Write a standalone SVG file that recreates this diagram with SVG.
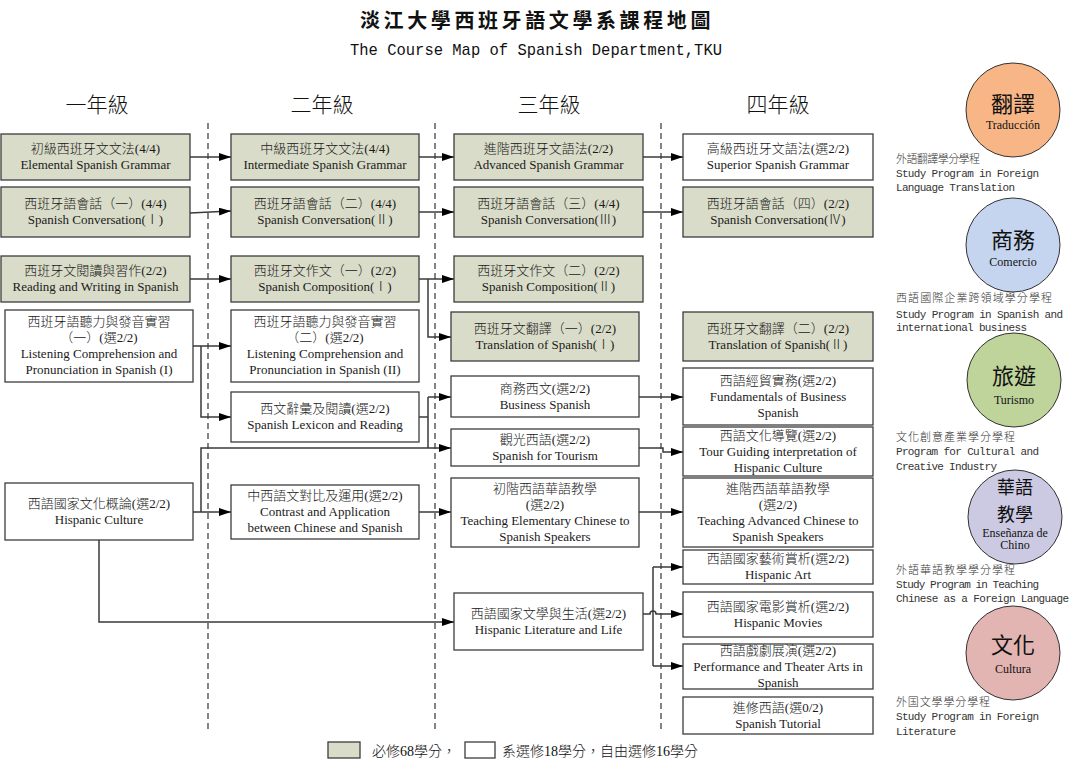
<svg xmlns="http://www.w3.org/2000/svg" width="1077" height="770" viewBox="0 0 1077 770">
<style>
.req{fill:#D9DCC8;stroke:#3c3c3c;stroke-width:1.3}
.opt{fill:#ffffff;stroke:#3c3c3c;stroke-width:1.3}
.t{font-family:"Liberation Serif","Noto Sans CJK TC",serif;font-size:13px;font-weight:300;fill:#1a1a1a;text-anchor:middle}
.yr{font-family:"Noto Sans CJK TC",serif;font-size:21px;font-weight:300;fill:#111;text-anchor:middle}
.dash{stroke:#333;stroke-width:1.2;stroke-dasharray:6,4;fill:none}
.ln{stroke:#3a3a3a;stroke-width:1.5;fill:none}
.ar{marker-end:url(#arr)}
.cbig{font-family:"Noto Sans CJK TC",serif;font-size:22px;fill:#111;text-anchor:middle}
.csm{font-family:"Liberation Serif",serif;font-size:12px;fill:#111;text-anchor:middle}
.pz{font-family:"Noto Sans CJK TC",sans-serif;font-size:11px;font-weight:300;fill:#333}
.pe{font-family:"Liberation Mono",monospace;font-size:11px;fill:#333}
.circ{stroke:#333;stroke-width:1}
.lg{font-family:"Liberation Serif","Noto Sans CJK TC",serif;font-size:14px;font-weight:300;fill:#111}
</style>
<defs>
<marker id="arr" markerUnits="userSpaceOnUse" markerWidth="12" markerHeight="8" refX="12" refY="4" orient="auto">
<path d="M0,0 L12,4 L0,8 z" fill="#000"/>
</marker>
</defs>
<rect width="1077" height="770" fill="#fff"/>

<g id="title">
<text x="537" y="28" font-family="Noto Sans CJK TC,serif" font-size="20" font-weight="bold" text-anchor="middle" letter-spacing="3.6" fill="#111">淡江大學西班牙語文學系課程地圖</text>
<text x="350" y="55" font-family="Liberation Mono,monospace" font-size="17" textLength="372" lengthAdjust="spacingAndGlyphs" fill="#111">The Course Map of Spanish Department,TKU</text>
</g>

<g id="years">
<text class="yr" x="97" y="112">一年級</text>
<text class="yr" x="322" y="112">二年級</text>
<text class="yr" x="549" y="112">三年級</text>
<text class="yr" x="778" y="112">四年級</text>
</g>

<g id="dividers">
<line class="dash" x1="208" y1="123" x2="208" y2="730"/>
<line class="dash" x1="435" y1="123" x2="435" y2="730"/>
<line class="dash" x1="661" y1="123" x2="661" y2="730"/>
</g>

<g id="connectors">
<path class="ln ar" d="M190,157 H231"/>
<path class="ln ar" d="M419,157 H454"/>
<path class="ln ar" d="M643,157 H683"/>
<path class="ln ar" d="M190,213 L231,211"/>
<path class="ln ar" d="M419,212 H454"/>
<path class="ln ar" d="M643,212 H683"/>
<path class="ln ar" d="M190,279 H231"/>
<path class="ln ar" d="M419,279 H454"/>
<path class="ln ar" d="M428,279 V337 H451"/>
<path class="ln ar" d="M193,346 H231"/>
<path class="ln ar" d="M201,346 V417 H231"/>
<path class="ln ar" d="M193,512 H231"/>
<path class="ln ar" d="M201,512 V448 H451"/>
<path class="ln" d="M419,417 H428"/>
<path class="ln" d="M428,397 V448"/>
<path class="ln ar" d="M428,397 H451"/>
<path class="ln ar" d="M419,512 H451"/>
<path class="ln ar" d="M99,540 V622 H454"/>
<path class="ln ar" d="M639,397 H683"/>
<path class="ln ar" d="M639,448 H663 V452 H683"/>
<path class="ln ar" d="M639,512 H683"/>
<path class="ln ar" d="M643,614 H650 A3,3 0 0 1 656,614 H683"/>
<path class="ln" d="M653,567 V666"/>
<path class="ln ar" d="M653,567 H683"/>
<path class="ln ar" d="M653,666 H683"/>
</g>

<g id="n1"><rect class="req" x="1" y="134" width="189" height="46"/><text class="t" x="95.5" y="153">初級西班牙文文法(4/4)</text><text class="t" x="95.5" y="169">Elemental Spanish Grammar</text></g>
<g id="n2"><rect class="req" x="1" y="187" width="189" height="50"/><text class="t" x="95.5" y="208">西班牙語會話（一）(4/4)</text><text class="t" x="95.5" y="224">Spanish Conversation(Ⅰ)</text></g>
<g id="n3"><rect class="req" x="1" y="256" width="189" height="46"/><text class="t" x="95.5" y="275">西班牙文閱讀與習作(2/2)</text><text class="t" x="95.5" y="291">Reading and Writing in Spanish</text></g>
<g id="n4"><rect class="opt" x="5" y="310" width="188" height="72"/><text class="t" x="99" y="326">西班牙語聽力與發音實習</text><text class="t" x="99" y="342">（一）(選2/2)</text><text class="t" x="99" y="358">Listening Comprehension and</text><text class="t" x="99" y="374">Pronunciation in Spanish (I)</text></g>
<g id="n5"><rect class="opt" x="5" y="483" width="188" height="57"/><text class="t" x="99" y="508">西語國家文化概論(選2/2)</text><text class="t" x="99" y="524">Hispanic Culture</text></g>

<g id="n6"><rect class="req" x="231" y="134" width="188" height="46"/><text class="t" x="325" y="153">中級西班牙文文法(4/4)</text><text class="t" x="325" y="169">Intermediate Spanish Grammar</text></g>
<g id="n7"><rect class="req" x="231" y="187" width="188" height="50"/><text class="t" x="325" y="208">西班牙語會話（二）(4/4)</text><text class="t" x="325" y="224">Spanish Conversation(Ⅱ)</text></g>
<g id="n8"><rect class="req" x="231" y="256" width="188" height="46"/><text class="t" x="325" y="275">西班牙文作文（一）(2/2)</text><text class="t" x="325" y="291">Spanish Composition(Ⅰ)</text></g>
<g id="n9"><rect class="opt" x="231" y="310" width="188" height="72"/><text class="t" x="325" y="326">西班牙語聽力與發音實習</text><text class="t" x="325" y="342">（二）(選2/2)</text><text class="t" x="325" y="358">Listening Comprehension and</text><text class="t" x="325" y="374">Pronunciation in Spanish (II)</text></g>
<g id="n10"><rect class="opt" x="231" y="392" width="188" height="50"/><text class="t" x="325" y="413">西文辭彙及閱讀(選2/2)</text><text class="t" x="325" y="429">Spanish Lexicon and Reading</text></g>
<g id="n11"><rect class="opt" x="231" y="485" width="188" height="54"/><text class="t" x="325" y="500">中西語文對比及運用(選2/2)</text><text class="t" x="325" y="516">Contrast and Application</text><text class="t" x="325" y="532">between Chinese and Spanish</text></g>

<g id="n12"><rect class="req" x="454" y="134" width="189" height="46"/><text class="t" x="548.5" y="153">進階西班牙文語法(2/2)</text><text class="t" x="548.5" y="169">Advanced Spanish Grammar</text></g>
<g id="n13"><rect class="req" x="454" y="187" width="189" height="50"/><text class="t" x="548.5" y="208">西班牙語會話（三）(4/4)</text><text class="t" x="548.5" y="224">Spanish Conversation(Ⅲ)</text></g>
<g id="n14"><rect class="req" x="454" y="256" width="189" height="46"/><text class="t" x="548.5" y="275">西班牙文作文（二）(2/2)</text><text class="t" x="548.5" y="291">Spanish Composition(Ⅱ)</text></g>
<g id="n15"><rect class="req" x="451" y="312" width="188" height="49"/><text class="t" x="545" y="332.5">西班牙文翻譯（一）(2/2)</text><text class="t" x="545" y="348.5">Translation of Spanish(Ⅰ)</text></g>
<g id="n16"><rect class="opt" x="451" y="376" width="188" height="41"/><text class="t" x="545" y="392.5">商務西文(選2/2)</text><text class="t" x="545" y="408.5">Business Spanish</text></g>
<g id="n17"><rect class="opt" x="451" y="429" width="188" height="37"/><text class="t" x="545" y="443.5">觀光西語(選2/2)</text><text class="t" x="545" y="459.5">Spanish for Tourism</text></g>
<g id="n18"><rect class="opt" x="451" y="478" width="188" height="69"/><text class="t" x="545" y="492.5">初階西語華語教學</text><text class="t" x="545" y="508.5">(選2/2)</text><text class="t" x="545" y="524.5">Teaching Elementary Chinese to</text><text class="t" x="545" y="540.5">Spanish Speakers</text></g>
<g id="n19"><rect class="opt" x="454" y="593" width="189" height="57"/><text class="t" x="548.5" y="617.5">西語國家文學與生活(選2/2)</text><text class="t" x="548.5" y="633.5">Hispanic Literature and Life</text></g>

<g id="n20"><rect class="opt" x="683" y="134" width="190" height="46"/><text class="t" x="778" y="153">高級西班牙文語法(選2/2)</text><text class="t" x="778" y="169">Superior Spanish Grammar</text></g>
<g id="n21"><rect class="req" x="683" y="187" width="190" height="50"/><text class="t" x="778" y="208">西班牙語會話（四）(2/2)</text><text class="t" x="778" y="224">Spanish Conversation(Ⅳ)</text></g>
<g id="n22"><rect class="req" x="683" y="312" width="190" height="49"/><text class="t" x="778" y="332.5">西班牙文翻譯（二）(2/2)</text><text class="t" x="778" y="348.5">Translation of Spanish(Ⅱ)</text></g>
<g id="n23"><rect class="opt" x="683" y="368" width="190" height="57"/><text class="t" x="778" y="385">西語經貿實務(選2/2)</text><text class="t" x="778" y="401">Fundamentals of Business</text><text class="t" x="778" y="417">Spanish</text></g>
<g id="n24"><rect class="opt" x="683" y="427" width="190" height="49"/><text class="t" x="778" y="440">西語文化導覽(選2/2)</text><text class="t" x="778" y="456">Tour Guiding interpretation of</text><text class="t" x="778" y="472">Hispanic Culture</text></g>
<g id="n25"><rect class="opt" x="683" y="478" width="190" height="69"/><text class="t" x="778" y="492.5">進階西語華語教學</text><text class="t" x="778" y="508.5">(選2/2)</text><text class="t" x="778" y="524.5">Teaching Advanced Chinese to</text><text class="t" x="778" y="540.5">Spanish Speakers</text></g>
<g id="n26"><rect class="opt" x="683" y="550" width="190" height="34"/><text class="t" x="778" y="563">西語國家藝術賞析(選2/2)</text><text class="t" x="778" y="579">Hispanic Art</text></g>
<g id="n27"><rect class="opt" x="683" y="592" width="190" height="45"/><text class="t" x="778" y="610.5">西語國家電影賞析(選2/2)</text><text class="t" x="778" y="626.5">Hispanic Movies</text></g>
<g id="n28"><rect class="opt" x="683" y="644" width="190" height="45"/><text class="t" x="778" y="655">西語戲劇展演(選2/2)</text><text class="t" x="778" y="671">Performance and Theater Arts in</text><text class="t" x="778" y="687">Spanish</text></g>
<g id="n29"><rect class="opt" x="683" y="697" width="190" height="37"/><text class="t" x="778" y="711.5">進修西語(選0/2)</text><text class="t" x="778" y="727.5">Spanish Tutorial</text></g>

<g id="p1">
<circle class="circ" cx="1013" cy="110" r="47" fill="#F8B686"/>
<text class="cbig" x="1013" y="112">翻譯</text>
<text class="csm" x="1013" y="129">Traducción</text>
<text class="pz" x="896" y="163" textLength="84">外語翻譯學分學程</text>
<text class="pe" x="896" y="177" textLength="143">Study Program in Foreign</text>
<text class="pe" x="896" y="191" textLength="119">Language Translation</text>
</g>
<g id="p2">
<circle class="circ" cx="1013" cy="245" r="47" fill="#C6D5EF"/>
<text class="cbig" x="1013" y="248">商務</text>
<text class="csm" x="1013" y="266">Comercio</text>
<text class="pz" x="896" y="302" textLength="156">西語國際企業跨領域學分學程</text>
<text class="pe" x="896" y="318" textLength="167">Study Program in Spanish and</text>
<text class="pe" x="896" y="331" textLength="131">international business</text>
</g>
<g id="p3">
<circle class="circ" cx="1014" cy="380" r="47" fill="#BED49A"/>
<text class="cbig" x="1014" y="384">旅遊</text>
<text class="csm" x="1014" y="404">Turismo</text>
<text class="pz" x="896" y="441" textLength="119">文化創意產業學分學程</text>
<text class="pe" x="896" y="455" textLength="143">Program for Cultural and</text>
<text class="pe" x="896" y="470" textLength="101">Creative Industry</text>
</g>
<g id="p4">
<circle class="circ" cx="1015" cy="517" r="47" fill="#CCCAE3"/>
<text class="cbig" x="1015" y="494" style="font-size:18px">華語</text>
<text class="cbig" x="1015" y="521" style="font-size:18px">教學</text>
<text class="csm" x="1015" y="537">Enseñanza de</text>
<text class="csm" x="1015" y="549">Chino</text>
<text class="pz" x="896" y="574" textLength="119">外語華語教學學分學程</text>
<text class="pe" x="896" y="588" textLength="143">Study Program in Teaching</text>
<text class="pe" x="896" y="602" textLength="173">Chinese as a Foreign Language</text>
</g>
<g id="p5">
<circle class="circ" cx="1013" cy="653" r="47" fill="#E3B5B2"/>
<text class="cbig" x="1013" y="653">文化</text>
<text class="csm" x="1013" y="673">Cultura</text>
<text class="pz" x="896" y="706" textLength="94">外国文學學分學程</text>
<text class="pe" x="896" y="720" textLength="143">Study Program in Foreign</text>
<text class="pe" x="896" y="735" textLength="60">Literature</text>
</g>

<g id="legend">
<rect class="req" x="328" y="742" width="32" height="16"/>
<text class="lg" x="372" y="756">必修68學分，</text>
<rect class="opt" x="465" y="742" width="30" height="16"/>
<text class="lg" x="502" y="756">系選修18學分，自由選修16學分</text>
</g>
</svg>
